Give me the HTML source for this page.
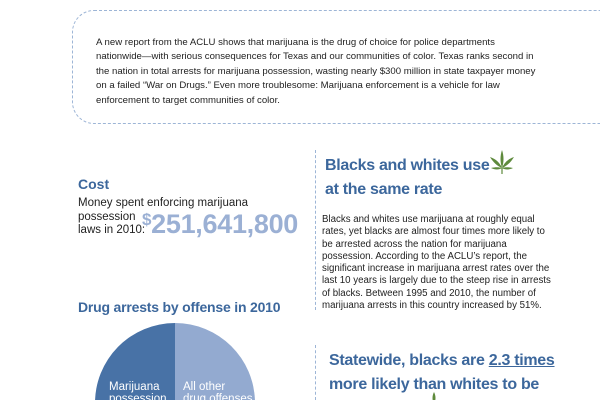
<!DOCTYPE html>
<html><head><meta charset="utf-8"><style>
html,body{margin:0;padding:0;background:#fff;}
body{width:600px;height:400px;position:relative;overflow:hidden;font-family:"Liberation Sans",sans-serif;color:#222;}
.a{position:absolute;white-space:nowrap;}
.h{color:#3c679c;font-weight:bold;}
.p{font-size:9.6px;line-height:14.4px;}
.q{font-size:9.7px;line-height:12.3px;}
</style></head><body>
<div class="a" style="left:72px;top:10px;width:528px;height:114px;border:1px dashed #9db5d6;border-right:none;border-radius:22px 0 0 22px;box-sizing:border-box;"></div>
<div class="a p" style="left:96px;top:36px;">A new report from the ACLU shows that marijuana is the drug of choice for police departments<br>nationwide—with serious consequences for Texas and our communities of color. Texas ranks second in<br>the nation in total arrests for marijuana possession, wasting nearly $300 million in state taxpayer money<br>on a failed “War on Drugs.” Even more troublesome: Marijuana enforcement is a vehicle for law<br>enforcement to target communities of color.</div>

<div class="a h" style="left:78px;top:176px;font-size:14px;">Cost</div>
<div class="a" style="left:78px;top:197px;font-size:11.5px;line-height:13.5px;">Money spent enforcing marijuana<br>possession<br>laws in 2010:</div>
<div class="a" style="left:142px;top:209px;font-size:27px;font-weight:bold;color:#9bb0d4;letter-spacing:-0.3px;"><span style="font-size:17px;vertical-align:8px;">$</span>251,641,800</div>

<div class="a h" style="left:78px;top:299px;font-size:14px;letter-spacing:-0.2px;">Drug arrests by offense in 2010</div>
<svg class="a" id="pie" style="left:0;top:0" width="600" height="400"></svg>

<div class="a" style="left:315px;top:150px;height:160px;border-left:1px dashed #9db5d6;"></div>
<div class="a" style="left:315px;top:345px;height:55px;border-left:1px dashed #9db5d6;"></div>

<div class="a h" style="left:325px;top:154px;font-size:16px;line-height:24px;letter-spacing:-0.3px;">Blacks and whites use<br>at the same rate</div>
<svg class="a" style="left:488px;top:148px" width="28" height="28" viewBox="0 0 28 28">
<g fill="#5e8a3c"><path d="M14 2 C16 8 16 14 14 20 C12 14 12 8 14 2Z"/><path d="M2 9 C8 11 12 15 14 20 C9 18 5 14 2 9Z"/><path d="M26 9 C20 11 16 15 14 20 C19 18 23 14 26 9Z"/><path d="M3 20 C7 19 11 19 14 20 C11 22 7 22 3 20Z"/><path d="M25 20 C21 19 17 19 14 20 C17 22 21 22 25 20Z"/><rect x="13.4" y="20" width="1.2" height="6"/></g></svg>
<div class="a q" style="left:322px;top:214px;">Blacks and whites use marijuana at roughly equal<br>rates, yet blacks are almost four times more likely to<br>be arrested across the nation for marijuana<br>possession. According to the ACLU’s report, the<br>significant increase in marijuana arrest rates over the<br>last 10 years is largely due to the steep rise in arrests<br>of blacks. Between 1995 and 2010, the number of<br>marijuana arrests in this country increased by 51%.</div>

<div class="a h" style="left:329px;top:349px;font-size:16px;line-height:24px;letter-spacing:-0.3px;">Statewide, blacks are <span style="text-decoration:underline;">2.3 times</span><br>more likely than whites to be</div>
<svg class="a" style="left:424px;top:390px" width="20" height="10"><path d="M10 2 C12 6 12 10 10 14 C8 10 8 6 10 2Z" fill="#5e8a3c"/></svg>

<script>
const categories = ["Marijuana possession", "All other drug offenses"];
const values = [50.5, 49.5];
const colors = ["#4872a6", "#93aad0"];
const svg = document.getElementById('pie');
const NS = "http://www.w3.org/2000/svg";
const cx = 175, cy = 403, r = 80;
const total = values.reduce((a,b)=>a+b,0);
let start = 0;
const order = [1, 0];
order.forEach(i => {
  const ang = values[i] / total * 2 * Math.PI;
  const a0 = start, a1 = start + ang;
  const x0 = cx + r*Math.sin(a0), y0 = cy - r*Math.cos(a0);
  const x1 = cx + r*Math.sin(a1), y1 = cy - r*Math.cos(a1);
  const p = document.createElementNS(NS, 'path');
  p.setAttribute('d', `M${cx},${cy} L${x0},${y0} A${r},${r} 0 ${ang>Math.PI?1:0} 1 ${x1},${y1} Z`);
  p.setAttribute('fill', colors[i]);
  
  
  svg.appendChild(p);
  start = a1;
});
const labels = [["Marijuana","possession"],["All other","drug offenses"]];
const lx = [109, 183];
labels.forEach((lines, i) => {
  lines.forEach((s, j) => {
    const t = document.createElementNS(NS, 'text');
    t.setAttribute('x', lx[i]);
    t.setAttribute('y', 390 + j*12);
    t.setAttribute('fill', '#fff');
    t.setAttribute('font-size', '11.5');
    t.setAttribute('font-family', 'Liberation Sans, sans-serif');
    t.textContent = s;
    
    
    svg.appendChild(t);
  });
});
</script>
</body></html>
